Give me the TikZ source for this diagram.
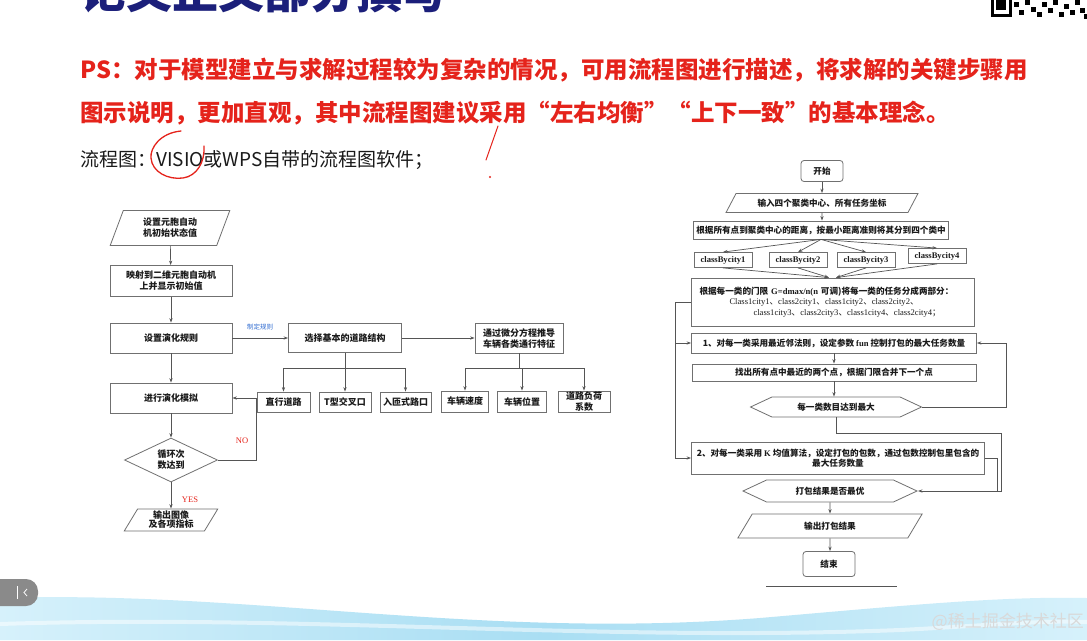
\documentclass[tikz,border=0pt]{standalone}
\usepackage{fontspec}
\setmainfont{Noto Sans CJK SC}
\newfontfamily\tnr{Liberation Serif}
\usepackage{xcolor}
\definecolor{Navy}{HTML}{1B1F7A}
\definecolor{Alarm}{HTML}{E5231B}
\definecolor{Ink}{HTML}{1A1A1A}
\definecolor{Frame}{HTML}{707070}
\definecolor{Wire}{HTML}{555555}
\definecolor{Link}{HTML}{2F6BD1}
\definecolor{Sky}{HTML}{D6F1FB}
\definecolor{SkyDeep}{HTML}{A9DEF3}
\definecolor{TabGray}{HTML}{8A8A8A}
\colorlet{navy}{Navy}
\colorlet{alarm}{Alarm}
\colorlet{ink}{Ink}
\colorlet{frame}{Frame}
\colorlet{wire}{Wire}
\colorlet{link}{Link}
\usetikzlibrary{arrows.meta,positioning,shapes.geometric,shapes.symbols,calc}
\newcommand{\lfont}{\fontsize{9}{11}\selectfont\bfseries}
\newcommand{\rfont}{\fontsize{8.6}{10.5}\selectfont\bfseries}
\newcommand{\tm}[1]{{\tnr #1}}

\begin{document}
\begin{tikzpicture}[x=1pt,y=-1pt,every node/.style={align=center,inner sep=1pt,text=ink},
  box/.style={draw=frame,line width=.8pt,rectangle},
  iobox/.style={draw=frame,line width=.8pt,trapezium,trapezium stretches=true},
  choice/.style={draw=frame,line width=.8pt,diamond,aspect=2.1},
  hexa/.style={draw=frame,line width=.8pt,signal,signal to=east and west,signal pointer angle=50},
  term/.style={draw=frame,line width=.8pt,rounded corners=3pt},
  wire/.style={draw=wire,line width=.7pt},
  arr/.style={draw=wire,line width=.7pt,-{Stealth[length=4.5pt,width=3.2pt]}}]
\useasboundingbox (0,0) rectangle (1087,640);
\clip (0,0) rectangle (1087,640);
\fill[white] (0,0) rectangle (1087,640);

% slide text
\node[anchor=base west,inner sep=0,font=\fontsize{46}{46}\selectfont\bfseries,text=navy] (title) at (80,8) {论文正文部分撰写};
\node[anchor=base west,inner sep=0,font=\fontsize{23.5}{24}\selectfont\bfseries,text=alarm] (ps1) at (80,78) {PS：对于模型建立与求解过程较为复杂的情况，可用流程图进行描述，将求解的关键步骤用};
\node[anchor=base west,inner sep=0,font=\fontsize{23.5}{24}\selectfont\bfseries,text=alarm] (ps2) at (80,121) {图示说明，更加直观，其中流程图建议采用“左右均衡”“上下一致”的基本理念。};
\node[anchor=base west,inner sep=0,font=\fontsize{19}{20}\selectfont] (tool) at (80,166) {流程图：VISIO或WPS自带的流程图软件；};
\draw[alarm,line width=1.3pt,line cap=round] (181,131) .. controls (160,133) and (150,148) .. (151,158) .. controls (152,172) and (168,180) .. (183,178) .. controls (197,176) and (205,162) .. (204,146);
\draw[alarm,line width=1pt,line cap=round] (498,126) -- (486,160);
\fill[alarm] (490,177) circle (1.2);

% QR corner
\draw[black,line width=3pt] (992,-10) rectangle (1010,15);
\fill[black] (996,-4) rectangle (1006,10);
\foreach \qx/\qy in {1014/2,1019/10,1025/0,1031/7,1037/12,1042/2,1048/8,1053/0,1059/12,1064/4,1070/10,1075/0,1080/8,1084/14}
  \fill[black] (\qx,\qy) rectangle ++(5,5);

% left chart
\node[iobox,font=\lfont,minimum width=120,minimum height=35,trapezium left angle=70,trapezium right angle=110] (init) at (170,228) {设置元胞自动\\机初始状态值};
\node[box,font=\lfont,minimum width=122,minimum height=31] (map) at (171,281) {映射到二维元胞自动机\\上并显示初始值};
\node[box,font=\lfont,minimum width=122,minimum height=30] (rule) at (171,338) {设置演化规则};
\node[box,font=\lfont,minimum width=122,minimum height=30] (simu) at (171,398) {进行演化模拟};
\node[choice,font=\lfont,minimum width=93,minimum height=44,inner sep=0] (loop) at (171,460) {循环次\\数达到};
\node[iobox,font=\lfont,minimum width=94,minimum height=22,inner sep=0,trapezium left angle=63,trapezium right angle=117] (show) at (171,520) {输出图像\\[-2pt]及各项指标};
\node[box,font=\lfont,minimum width=113,minimum height=29] (road) at (345,338) {选择基本的道路结构};
\node[box,font=\lfont,minimum width=88,minimum height=30] (deriv) at (519,338) {通过微分方程推导\\车辆各类通行特征};
\node[box,font=\lfont,minimum width=53,minimum height=20] (straight) at (283.5,402) {直行道路};
\node[box,font=\lfont,minimum width=52,minimum height=20] (tcross) at (345,402) {T型交叉口};
\node[box,font=\lfont,minimum width=51,minimum height=20] (ramp) at (405.5,402) {入匝式路口};
\node[box,font=\lfont,minimum width=47,minimum height=21] (speed) at (465,401.5) {车辆速度};
\node[box,font=\lfont,minimum width=49,minimum height=21] (place) at (522,401.5) {车辆位置};
\node[box,font=\lfont,minimum width=52,minimum height=21,inner sep=0] (load) at (584,401.5) {道路负荷\\系数};
\node[font=\fontsize{6.5}{7}\selectfont,text=link] (rulelbl) at (260,327) {制定规则};
\node[font=\tnr\fontsize{8.5}{9}\selectfont,text=alarm] (nolbl) at (242,441) {NO};
\node[font=\tnr\fontsize{8.5}{9}\selectfont,text=alarm] (yeslbl) at (190,500) {YES};

\draw[arr] (init) -- (map);
\draw[arr] (map) -- (rule);
\draw[arr] (rule) -- (simu);
\draw[arr] (simu) -- (loop);
\draw[arr] (loop) -- (show);
\draw[arr] (rule) -- (road);
\draw[arr] (road) -- (deriv);
\draw[wire] (road.south) -- ++(0,15) coordinate (rj);
\draw[wire] (rj -| straight.north) -- (rj -| ramp.north);
\foreach \k in {straight,tcross,ramp} \draw[arr] (rj -| \k.north) -- (\k.north);
\draw[wire] (deriv.south) -- ++(0,15) coordinate (dj);
\draw[wire] (dj -| speed.north) -- (dj -| load.north);
\foreach \k in {speed,place,load} \draw[arr] (dj -| \k.north) -- (\k.north);
\draw[arr] (loop.east) -| (straight.west) |- (simu.east);

% right chart
\node[term,font=\rfont,minimum width=42,minimum height=21] (start) at (822,171) {开始};
\node[iobox,font=\rfont,minimum width=192,minimum height=19,inner sep=0,trapezium left angle=48,trapezium right angle=132] (input) at (822,203) {输入四个聚类中心、所有任务坐标};
\node[box,font=\rfont,minimum width=255,minimum height=18,inner sep=0] (near) at (821,230) {根据所有点到聚类中心的距离，按最小距离准则将其分到四个类中};
\node[box,font=\tnr\fontsize{8.6}{9}\selectfont\bfseries,minimum width=58,minimum height=15,inner sep=0] (c1) at (723,260) {classBycity1};
\node[box,font=\tnr\fontsize{8.6}{9}\selectfont\bfseries,minimum width=58,minimum height=15,inner sep=0] (c2) at (798,260) {classBycity2};
\node[box,font=\tnr\fontsize{8.6}{9}\selectfont\bfseries,minimum width=58,minimum height=15,inner sep=0] (c3) at (866,260) {classBycity3};
\node[box,font=\tnr\fontsize{8.6}{9}\selectfont\bfseries,minimum width=58,minimum height=15,inner sep=0] (c4) at (937,256) {classBycity4};
\node[box,font=\rfont,text width=267,align=left,inner xsep=8,inner ysep=2,minimum height=48] (cut) at (833,302) {根据每一类的门限 \tm{G=dmax/n(n} 可调)将每一类的任务分成两部分：\\
  \hspace*{30pt}{\mdseries\tm{Class1city1}、\tm{class2city1}、\tm{class1city2}、\tm{class2city2}、}\\
  \hspace*{54pt}{\mdseries\tm{class1city3}、\tm{class2city3}、\tm{class1city4}、\tm{class2city4}；}};
\node[box,font=\rfont,minimum width=285,minimum height=20,inner sep=0] (s1) at (834,343) {1、对每一类采用最近邻法则，设定参数 \tm{fun} 控制打包的最大任务数量};
\node[box,font=\rfont,minimum width=284,minimum height=17,inner sep=0] (find) at (834,372.5) {找出所有点中最近的两个点，根据门限合并下一个点};
\node[hexa,font=\rfont,minimum width=171,minimum height=20,inner sep=0] (hex1) at (836,407) {每一类数目达到最大};
\node[box,font=\rfont,minimum width=293,minimum height=32,inner sep=0] (s2) at (838,458) {2、对每一类采用 \tm{K} 均值算法，设定打包的包数，通过包数控制包里包含的\\最大任务数量};
\node[hexa,font=\rfont,minimum width=174,minimum height=22,inner sep=0] (hex2) at (830,491) {打包结果是否最优};
\node[iobox,font=\rfont,minimum width=185,minimum height=24,inner sep=0,trapezium left angle=60,trapezium right angle=120] (out) at (830,526) {输出打包结果};
\node[term,font=\rfont,minimum width=52,minimum height=25] (stop) at (829,564) {结束};
\draw[wire] (766,586) -- (897,586);

\draw[arr] (start) -- (start |- input.north);
\draw[arr] (input) -- (input |- near.north);
\foreach \k in {c1,c2,c3,c4} \draw[arr] (near.south) -- (\k.north);
\draw[arr] (c1.south) -- ([xshift=-4pt]cut.north);
\draw[arr] (c2.south) -- ([xshift=-4pt]cut.north);
\draw[arr] (c3.south) -- ([xshift=3pt]cut.north);
\draw[arr] (c4.south) -- ([xshift=3pt]cut.north);
\draw[wire] (cut.west) -- ++(-16,0) coordinate (back);
\draw[arr] (back) |- (s2.west);
\draw[arr] (back |- s1.west) -- (s1.west);
\draw[arr] (s1) -- (find);
\draw[arr] (find) -- (find |- hex1.north);
\draw[arr] (hex1.east) -- ++(84,0) |- (s1.east);
\coordinate (edge) at (1001,433);
\draw[arr] (hex1.south) |- (edge) |- (hex2.east);
\draw[wire] (s2.east) -| ([xshift=12pt]s2.east |- hex2.east);
\draw[arr] (hex2) -- (hex2 |- out.north);
\draw[arr] (out) -- (out |- stop.north);

% slide footer
\shade[left color=Sky,right color=Sky,middle color=SkyDeep] (0,598) .. controls (250,590) and (480,640) .. (760,618) .. controls (900,606) and (1000,596) .. (1087,598) -- (1087,640) -- (0,640) -- cycle;
\fill[white,opacity=.5] (0,622) .. controls (300,612) and (600,640) .. (900,628) .. controls (980,624) and (1040,618) .. (1087,620) -- (1087,624) .. controls (1040,622) and (980,628) .. (900,632) .. controls (600,644) and (300,616) .. (0,626) -- cycle;
\fill[TabGray,rounded corners=12pt] (-20,579) rectangle (38,606);
\draw[white,line width=.6pt] (17,586) -- (17,599);
\draw[white,line width=.8pt] (27,589) -- (24,592.5) -- (27,596);
\node[anchor=east,font=\fontsize{17}{17}\selectfont,text=white!85!black] (mark) at (1085,622) {@稀土掘金技术社区};
\end{tikzpicture}
\end{document}
